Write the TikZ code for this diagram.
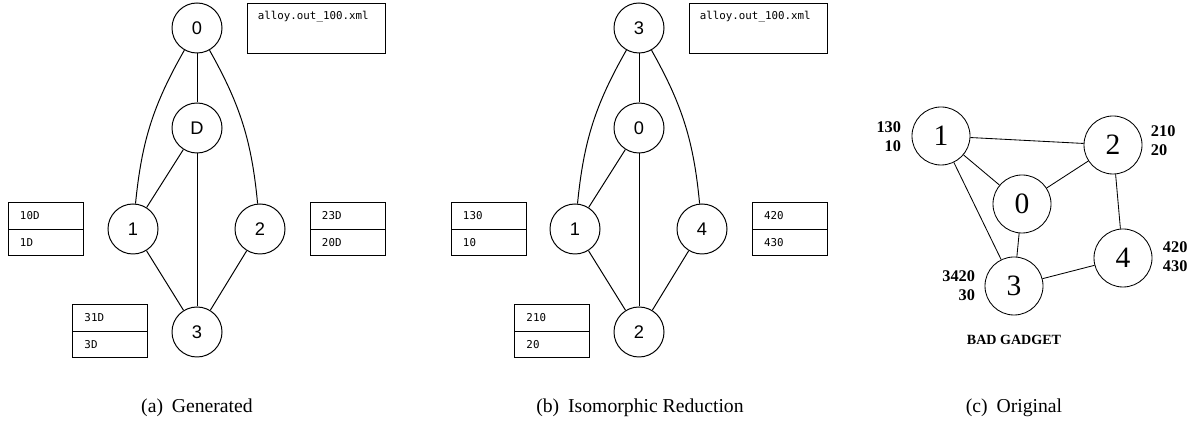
\documentclass[tikz,border=0pt]{standalone}
\usepackage{fontspec}
\setmainfont{Liberation Serif}
\setsansfont{Liberation Sans}
\setmonofont{DejaVu Sans Mono}
\usetikzlibrary{positioning}

\tikzset{
  vert/.style={circle, draw, line width=0.7pt, minimum size=1.25cm, inner sep=0pt,
    font=\sffamily\fontsize{13}{15}\selectfont},
  gvert/.style={circle, draw, line width=0.6pt, minimum size=1.45cm, inner sep=0pt,
    font=\fontsize{21}{24}\selectfont},
  cell/.style={draw, line width=0.6pt, minimum width=1.875cm, minimum height=0.6625cm,
    inner xsep=0.3cm, inner ysep=0pt, outer sep=0pt, text width=1.275cm, align=left,
    font=\ttfamily\fontsize{7.7}{9}\selectfont},
  filebox/.style={draw, line width=0.6pt, minimum width=3.45cm, minimum height=1.25cm},
  filetext/.style={anchor=north west, inner sep=0pt, font=\ttfamily\fontsize{7.7}{9}\selectfont},
  gnote/.style={font=\bfseries\fontsize{11.6}{13.5}\selectfont},
  caption/.style={font=\fontsize{14}{16}\selectfont}
}

\begin{document}
\begin{tikzpicture}[x=0.025cm, y=0.025cm]
  \useasboundingbox (0,0) rectangle (1192,432);

  % (a) generated
  \node[vert] (a0) at (197,404) {0};
  \node[vert] (aD) at (197,304) {D};
  \node[vert] (a1) at (133,203) {1};
  \node[vert] (a2) at (260,203) {2};
  \node[vert] (a3) at (197,100) {3};
  \begin{scope}[line width=0.7pt]
    \draw (a0) -- (aD);
    \draw (a0) to[bend right=12] (a1);
    \draw (a0) to[bend left=12] (a2);
    \draw (aD) -- (a1);
    \draw (aD) -- (a3);
    \draw (a1) -- (a3);
    \draw (a2) -- (a3);
  \end{scope}
  \node[filebox] (afile) at (316,404) {};
  \node[filetext] (afilet) at ([shift={(0.275cm,-0.2cm)}]afile.north west) {alloy.out\_100.xml};
  \node[cell] (a10D) at (45.5,216) {10D};
  \node[cell, below=0pt of a10D] (a1D) {1D};
  \node[cell] (a23D) at (347.5,216) {23D};
  \node[cell, below=0pt of a23D] (a20D) {20D};
  \node[cell] (a31D) at (110,114) {31D};
  \node[cell, below=0pt of a31D] (a3D) {3D};

  % (b) isomorphic reduction
  \node[vert] (b3) at (639,404) {3};
  \node[vert] (b0) at (639,304) {0};
  \node[vert] (b1) at (575,203) {1};
  \node[vert] (b4) at (702,203) {4};
  \node[vert] (b2) at (639,100) {2};
  \begin{scope}[line width=0.7pt]
    \draw (b3) -- (b0);
    \draw (b3) to[bend right=12] (b1);
    \draw (b3) to[bend left=12] (b4);
    \draw (b0) -- (b1);
    \draw (b0) -- (b2);
    \draw (b1) -- (b2);
    \draw (b4) -- (b2);
  \end{scope}
  \node[filebox] (bfile) at (758,404) {};
  \node[filetext] (bfilet) at ([shift={(0.275cm,-0.2cm)}]bfile.north west) {alloy.out\_100.xml};
  \node[cell] (b130) at (488.5,216) {130};
  \node[cell, below=0pt of b130] (b10) {10};
  \node[cell] (b420) at (789.5,216) {420};
  \node[cell, below=0pt of b420] (b430) {430};
  \node[cell] (b210) at (552,114) {210};
  \node[cell, below=0pt of b210] (b20) {20};

  % (c) original
  \node[gvert] (c1) at (941,296) {1};
  \node[gvert] (c2) at (1113,287) {2};
  \node[gvert] (c0) at (1022,228) {0};
  \node[gvert] (c4) at (1123,174) {4};
  \node[gvert] (c3) at (1014,146) {3};
  \begin{scope}[line width=0.6pt]
    \draw (c1) -- (c2);
    \draw (c1) -- (c0);
    \draw (c1) -- (c3);
    \draw (c2) -- (c0);
    \draw (c2) -- (c4);
    \draw (c0) -- (c3);
    \draw (c3) -- (c4);
  \end{scope}
  \node[gnote, align=right, anchor=east] (c1n) at (906,295) {130\\10};
  \node[gnote, align=left, anchor=west] (c2n) at (1146,291) {210\\20};
  \node[gnote, align=left, anchor=west] (c4n) at (1158,175) {420\\430};
  \node[gnote, align=right, anchor=east] (c3n) at (980,146) {3420\\30};
  \node[font=\bfseries\fontsize{10}{12}\selectfont] (ctitle) at (1014,92) {BAD GADGET};

  % captions
  \node[caption] (capa) at (197,24) {(a)\hspace{0.45em}Generated};
  \node[caption] (capb) at (640,24) {(b)\hspace{0.45em}Isomorphic Reduction};
  \node[caption] (capc) at (1014,24) {(c)\hspace{0.45em}Original};
\end{tikzpicture}
\end{document}
